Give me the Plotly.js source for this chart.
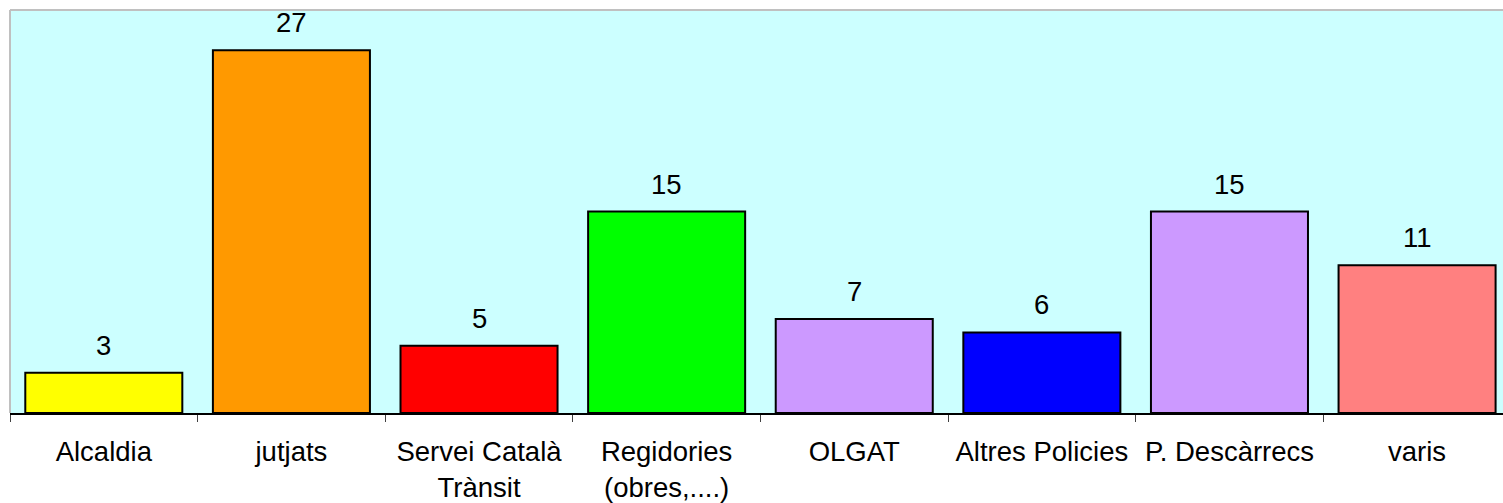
<!DOCTYPE html>
<html>
<head>
<meta charset="utf-8">
<script src="https://cdn.plot.ly/plotly-3.0.1.min.js"></script>
<style>
html,body{margin:0;padding:0;background:#fff;}
#chart{width:1503px;height:503px;}
</style>
</head>
<body>
<div id="chart"></div>
<script>
const categories = ["Alcaldia", "jutjats", "Servei Català<br>Trànsit", "Regidories<br>(obres,....)", "OLGAT", "Altres Policies", "P. Descàrrecs", "varis"];
const values = [3, 27, 5, 15, 7, 6, 15, 11];
const barColors = ["#FFFF00", "#FF9900", "#FF0000", "#00FF00", "#CC99FF", "#0000FF", "#CC99FF", "#FF8080"];

const fontFamily = "'Liberation Sans', Arial, sans-serif";

const trace = {
  type: "bar",
  x: categories,
  y: values,
  marker: { color: barColors, line: { color: "#000000", width: 2 } },
  hoverinfo: "x+y"
};

const annotations = categories.map((c, i) => ({
  x: c,
  y: values[i],
  xref: "x",
  yref: "y",
  text: String(values[i]),
  showarrow: false,
  yanchor: "bottom",
  yshift: 10,
  font: { family: fontFamily, size: 27.5, color: "#000000" }
}));

const layout = {
  width: 1503,
  height: 503,
  margin: { l: 10, r: 0, t: 10, b: 90, pad: 0 },
  paper_bgcolor: "#FFFFFF",
  plot_bgcolor: "#CCFFFF",
  bargap: 0.163,
  showlegend: false,
  font: { family: fontFamily, size: 27.5, color: "#000000" },
  xaxis: {
    type: "category",
    range: [-0.5, 7.458],
    tickson: "boundaries",
    ticks: "outside",
    ticklen: 7,
    tickwidth: 1,
    tickcolor: "#404040",
    showline: true,
    linecolor: "#000000",
    linewidth: 2,
    showgrid: false,
    zeroline: false,
    ticklabelstandoff: 13,
    tickfont: { family: fontFamily, size: 27.5, color: "#000000" }
  },
  yaxis: {
    range: [0, 30],
    showticklabels: false,
    ticks: "",
    showgrid: false,
    zeroline: false,
    showline: false
  },
  shapes: [
    { type: "line", xref: "paper", yref: "paper", x0: 0, x1: 1, y0: 1, y1: 1,
      line: { color: "#C0C0C0", width: 2 }, layer: "below" },
    { type: "line", xref: "paper", yref: "paper", x0: 0, x1: 0, y0: 0, y1: 1,
      line: { color: "#C0C0C0", width: 2 }, layer: "below" }
  ],
  annotations: annotations
};

Plotly.newPlot("chart", [trace], layout, { displayModeBar: false, staticPlot: true });
</script>
</body>
</html>
